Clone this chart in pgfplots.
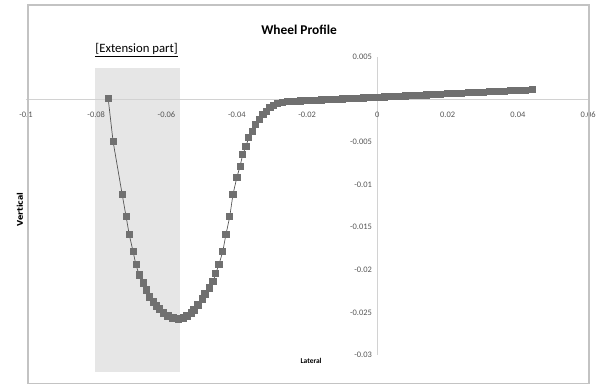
\documentclass[border=0pt]{standalone}
\usepackage{pgfplots}
\pgfplotsset{compat=1.18}
\usepackage{fontspec}
\setmainfont{Carlito}
\newfontfamily\dvs{DejaVu Sans}
\definecolor{axgray}{RGB}{210,210,210}
\definecolor{shadegray}{RGB}{230,230,230}
\definecolor{mk}{RGB}{112,112,112}
\definecolor{ln}{RGB}{85,85,85}
\definecolor{tk}{RGB}{85,85,85}
\definecolor{framegray}{RGB}{195,195,195}
\begin{document}
\begin{tikzpicture}
\begin{axis}[
  set layers,
  scale only axis, width=564bp, height=299bp,
  xmin=-0.1, xmax=0.06, ymin=-0.03, ymax=0.005,
  axis lines=middle, axis line style={-, draw=axgray, line width=0.8pt},
  hide obscured x ticks=false, hide obscured y ticks=false,
  scaled x ticks=false, scaled y ticks=false,
  xtick={-0.1,-0.08,-0.06,-0.04,-0.02,0,0.02,0.04,0.06},
  xticklabels={-0.1,-0.08,-0.06,-0.04,-0.02,0,0.02,0.04,0.06},
  ytick={-0.03,-0.025,-0.02,-0.015,-0.01,-0.005,0.005},
  yticklabels={-0.03,-0.025,-0.02,-0.015,-0.01,-0.005,0.005},
  major tick length=0pt,
  tick label style={font=\fontsize{8.5}{9}\selectfont, text=tk},
  xticklabel style={yshift=-9pt},
  yticklabel style={xshift=-2pt},
  /pgf/number format/assume math mode=true,
  clip=false,
]
% bounding box and frame
\path (axis cs:-0.10738,0.011674) rectangle (axis cs:0.06255,-0.03364);
\draw[framegray, line width=1.2pt] (axis cs:-0.0994,0.01109) rectangle (axis cs:0.0602,-0.03335);
% shaded extension part
\begin{pgfonlayer}{axis background}
\fill[shadegray] (axis cs:-0.0803,0.00371) rectangle (axis cs:-0.0562,-0.0320);
\end{pgfonlayer}
\addplot[color=ln, line width=0.7pt, mark=square*, mark size=3.1pt,
  mark options={fill=mk, draw=mk}] coordinates {
(-0.0766,0.00012) (-0.0752,-0.00494) (-0.0726,-0.01118) (-0.0715,-0.01376)
(-0.0706,-0.01588) (-0.0695,-0.01788) (-0.0687,-0.01941) (-0.0678,-0.02059)
(-0.0667,-0.02153) (-0.0658,-0.02235) (-0.0650,-0.02318) (-0.0638,-0.02376)
(-0.0630,-0.02424) (-0.0621,-0.02459) (-0.0610,-0.02506) (-0.0596,-0.02541)
(-0.0582,-0.02565) (-0.0567,-0.02576)
(-0.0553,-0.02565) (-0.0542,-0.02541) (-0.0530,-0.02506) (-0.0522,-0.02471)
(-0.0511,-0.02412) (-0.0499,-0.02341) (-0.0491,-0.02282) (-0.0479,-0.02212)
(-0.0468,-0.02141) (-0.0460,-0.02047) (-0.0451,-0.01941) (-0.0440,-0.01788)
(-0.0431,-0.01588) (-0.0420,-0.01376) (-0.0411,-0.01118) (-0.0400,-0.00918)
(-0.0391,-0.00788) (-0.0383,-0.00647) (-0.0374,-0.00553) (-0.0366,-0.00447)
(-0.0355,-0.00376) (-0.0346,-0.00294) (-0.0335,-0.00235) (-0.0326,-0.00176)
(-0.0315,-0.00141) (-0.0306,-0.00094) (-0.0295,-0.00071) (-0.0284,-0.00047)
(-0.0270,-0.00035) (-0.0255,-0.00024)
(-0.024,-0.00021) (-0.022,-0.00017) (-0.020,-0.00013) (-0.018,-0.00009)
(-0.016,-0.00005) (-0.014,-0.00001) (-0.012,0.00003) (-0.010,0.00007)
(-0.008,0.00011) (-0.006,0.00014) (-0.004,0.00018) (-0.002,0.00022)
(0,0.00026) (0.002,0.00030) (0.004,0.00034) (0.006,0.00038)
(0.008,0.00042) (0.010,0.00046) (0.012,0.00050) (0.014,0.00054)
(0.016,0.00058) (0.018,0.00062) (0.020,0.00067) (0.022,0.00071)
(0.024,0.00075) (0.026,0.00079) (0.028,0.00083) (0.030,0.00087)
(0.032,0.00091) (0.034,0.00095) (0.036,0.00099) (0.038,0.00103)
(0.040,0.00107) (0.042,0.00111) (0.044,0.00115)
};
\node[font=\fontsize{8.5}{9}\selectfont, text=black!80, anchor=east] at (axis cs:-0.0004,0.00012) {0};
\node[font=\bfseries\fontsize{13.5}{15}\selectfont] at (axis cs:-0.02227,0.00816) {Wheel Profile};
\node[font=\fontsize{12.8}{15}\selectfont] at (axis cs:-0.06851,0.00582) {\underline{[Extension part]}};
\node[font=\dvs\bfseries\fontsize{8}{9}\selectfont, rotate=90] at (axis cs:-0.1017,-0.01292) {Vertical};
\node[font=\bfseries\fontsize{7.5}{9}\selectfont] at (axis cs:-0.01887,-0.03071) {Lateral};
\end{axis}
\end{tikzpicture}
\end{document}
